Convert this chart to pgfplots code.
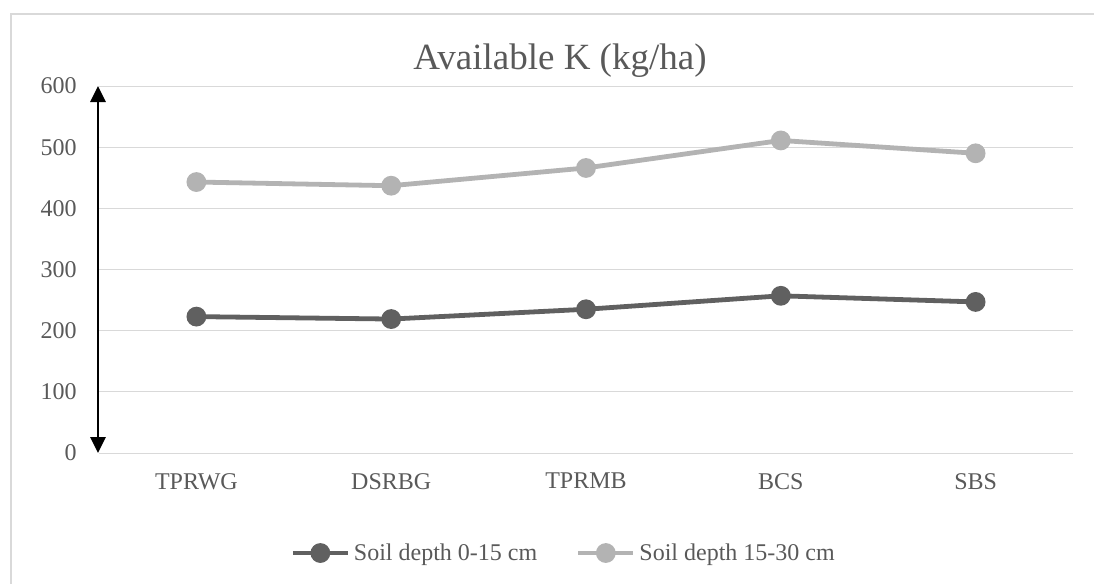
\documentclass[border=0pt]{standalone}
\usepackage{pgfplots}
\pgfplotsset{compat=1.18}
\usepackage{fontspec}
\setmainfont{Liberation Serif}
\usetikzlibrary{arrows.meta}
\definecolor{txt}{HTML}{595959}
\definecolor{gridgray}{HTML}{D9D9D9}
\definecolor{darkser}{HTML}{606060}
\definecolor{lightser}{HTML}{B3B3B3}
\begin{document}
\begin{tikzpicture}[x=0.75pt,y=0.75pt]
\path[use as bounding box] (0,0) rectangle (1094,583);
\clip (0,0) rectangle (1094,583);
\draw[gridgray, line width=1.5pt] (11,-20) -- (11,569) -- (1200,569);
\begin{axis}[
  at={(74.25pt,97.5pt)}, anchor=south west,
  scale only axis, width=730.5pt, height=275.25pt,
  xmin=-0.5, xmax=4.5, ymin=0, ymax=600,
  xtick={0,1,2,3,4},
  xticklabels={TPRWG,DSRBG,TPRMB,BCS,SBS},
  ytick={0,100,200,300,400,500,600},
  major tick length=0pt,
  /pgf/number format/assume math mode=true,
  axis x line*=bottom, axis y line*=left,
  x axis line style={draw=gridgray, line width=0.75pt, -},
  y axis line style={draw=none},
  xmajorgrids=false, ymajorgrids=true,
  major grid style={draw=gridgray, line width=0.75pt},
  tick label style={font=\fontsize{18}{20}\selectfont, text=txt},
  xticklabel style={anchor=north, inner sep=0pt, yshift=-15pt},
  yticklabel style={anchor=east, inner sep=0pt, xshift=-16.5pt},
  title={Available K (kg/ha)},
  title style={at={(axis description cs:0.4733,1.0463)}, anchor=base, yshift=-6pt, font=\fontsize{27.75}{30}\selectfont, text=txt, inner sep=0pt},
  clip=false,
  legend columns=2,
  legend style={at={(axis description cs:0.476,-0.2725)}, anchor=center, draw=none, fill=none, inner sep=0pt,
    font=\fontsize{18}{20}\selectfont, text=txt,
    nodes={inner sep=0pt, anchor=west},
    /tikz/every even column/.append style={column sep=29pt}},
  legend image code/.code={\draw[mark repeat=2,mark phase=2,#1] plot coordinates {(0pt,0pt) (20.6pt,0pt) (41.2pt,0pt)}; \path (44pt,0pt);},
]
\addplot[darkser, line width=3.6pt, mark=*, mark size=5.6pt, mark options={solid}] coordinates {
  (0,223) (1,219) (2,235) (3,257) (4,247)};
\addlegendentry{Soil depth 0-15 cm}
\addplot[lightser, line width=3.6pt, mark=*, mark size=5.6pt, mark options={solid}] coordinates {
  (0,443) (1,437) (2,466) (3,511) (4,490)};
\addlegendentry{Soil depth 15-30 cm}
\draw[black, line width=1.5pt, {Triangle[width=11.5pt,length=12pt]}-{Triangle[width=11.5pt,length=12pt]}]
  (axis cs:-0.505,0) -- (axis cs:-0.505,600);
\end{axis}
\end{tikzpicture}
\end{document}
